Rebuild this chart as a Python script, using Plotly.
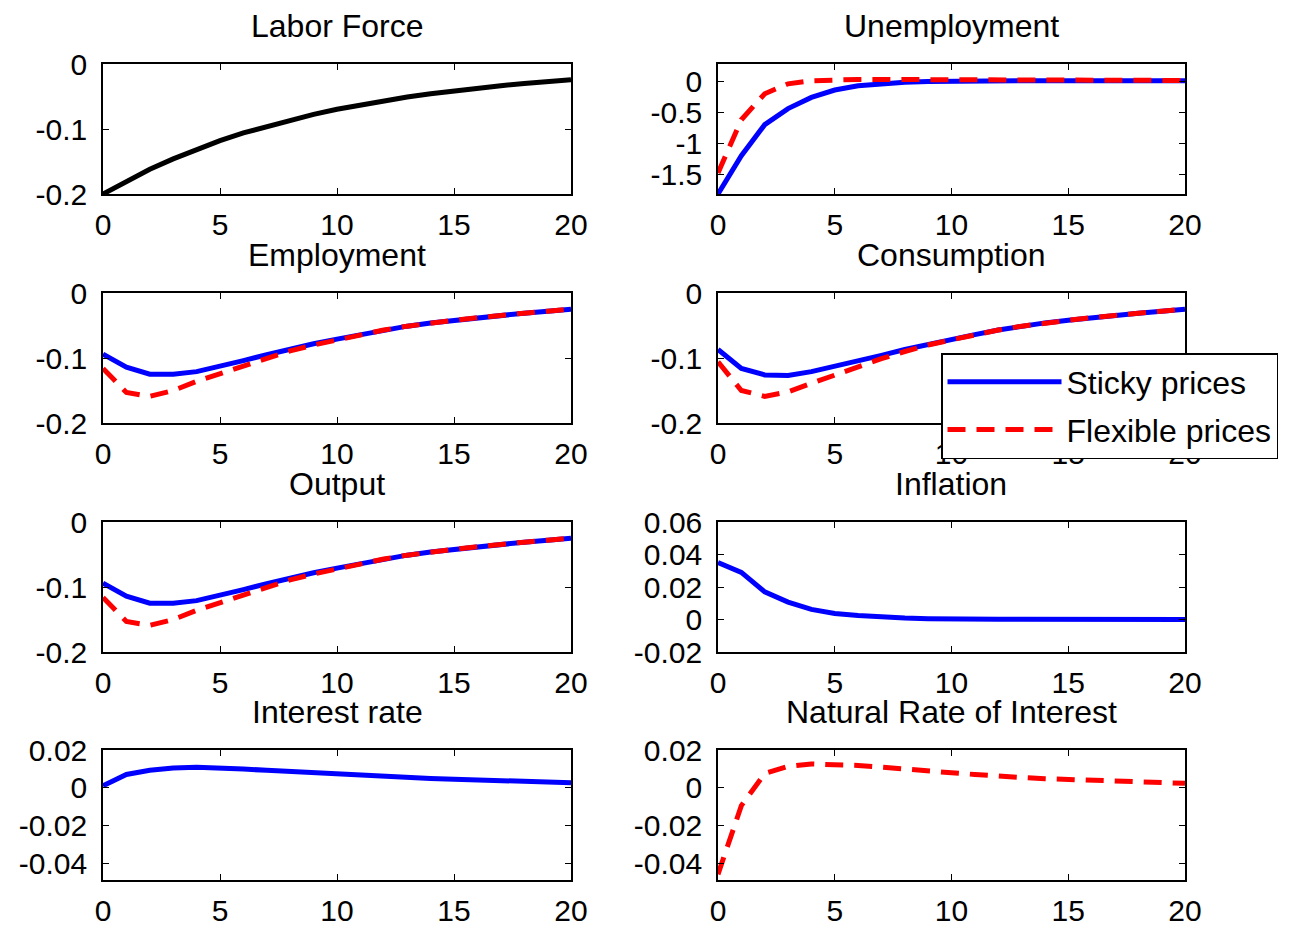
import plotly.graph_objects as go
from plotly.subplots import make_subplots

# ---------------- data ----------------
t = list(range(21))

labor_force = [-0.200, -0.180, -0.162, -0.146, -0.131, -0.118, -0.106, -0.096, -0.086, -0.0775,
               -0.0697, -0.0628, -0.0565, -0.0508, -0.0458, -0.0412, -0.0371, -0.0334, -0.0300, -0.0270, -0.0243]

unemp_sticky = [-1.82, -1.20, -0.70, -0.44, -0.26, -0.14, -0.07, -0.035, -0.015, -0.003,
                0.005, 0.008, 0.010, 0.010, 0.010, 0.010, 0.010, 0.010, 0.010, 0.008, 0.008]
unemp_flex = [-1.48, -0.62, -0.20, -0.04, 0.010, 0.025, 0.030, 0.030, 0.030, 0.030,
              0.030, 0.028, 0.027, 0.026, 0.025, 0.024, 0.022, 0.020, 0.018, 0.016, 0.014]

emp_sticky = [-0.094, -0.114, -0.125, -0.125, -0.121, -0.113, -0.104, -0.095, -0.086, -0.078,
              -0.071, -0.064, -0.057, -0.051, -0.046, -0.042, -0.038, -0.034, -0.031, -0.028, -0.025]
emp_flex = [-0.116, -0.153, -0.159, -0.150, -0.136, -0.124, -0.112, -0.100, -0.089, -0.080,
            -0.072, -0.064, -0.057, -0.051, -0.046, -0.042, -0.038, -0.034, -0.031, -0.028, -0.025]

cons_sticky = [-0.087, -0.116, -0.126, -0.127, -0.121, -0.113, -0.105, -0.096, -0.087, -0.079,
               -0.071, -0.064, -0.057, -0.051, -0.046, -0.042, -0.038, -0.034, -0.031, -0.028, -0.025]
cons_flex = [-0.106, -0.150, -0.159, -0.152, -0.139, -0.126, -0.113, -0.101, -0.090, -0.080,
             -0.072, -0.064, -0.057, -0.051, -0.046, -0.042, -0.038, -0.034, -0.031, -0.028, -0.025]

out_sticky = [-0.094, -0.114, -0.125, -0.125, -0.121, -0.113, -0.104, -0.095, -0.086, -0.078,
              -0.071, -0.064, -0.057, -0.051, -0.046, -0.042, -0.038, -0.034, -0.031, -0.028, -0.025]
out_flex = [-0.116, -0.153, -0.159, -0.150, -0.136, -0.124, -0.112, -0.100, -0.089, -0.080,
            -0.072, -0.064, -0.057, -0.051, -0.046, -0.042, -0.038, -0.034, -0.031, -0.028, -0.025]

inflation = [0.035, 0.029, 0.017, 0.0107, 0.0062, 0.0037, 0.0025, 0.0015, 0.0009, 0.0005,
             0.0002, 0.0001, 0.0001, 0.0001, 0.0, 0.0, 0.0, 0.0, 0.0, 0.0, 0.0]

interest = [0.001, 0.007, 0.0092, 0.0104, 0.0108, 0.0105, 0.0099, 0.0092, 0.0085, 0.0078,
            0.0071, 0.0065, 0.0059, 0.0054, 0.0049, 0.0045, 0.0041, 0.0037, 0.0033, 0.0029, 0.0026]

natural_rate = [-0.046, -0.0095, 0.0075, 0.0113, 0.0126, 0.0123, 0.0118, 0.0109, 0.0097, 0.0088,
                0.0079, 0.0070, 0.0060, 0.0054, 0.0048, 0.0044, 0.0040, 0.0036, 0.0031, 0.0027, 0.0023]

titles = ["Labor Force", "Unemployment", "Employment", "Consumption",
          "Output", "Inflation", "Interest rate", "Natural Rate of Interest"]

x_ticks = [0, 5, 10, 15, 20]
y_ranges = [[-0.2, 0], [-1.82, 0.28], [-0.2, 0], [-0.2, 0],
            [-0.2, 0], [-0.02, 0.06], [-0.049, 0.02], [-0.049, 0.02]]
y_tickvals = [[-0.2, -0.1, 0], [-1.5, -1, -0.5, 0], [-0.2, -0.1, 0], [-0.2, -0.1, 0],
              [-0.2, -0.1, 0], [-0.02, 0, 0.02, 0.04, 0.06], [-0.04, -0.02, 0, 0.02], [-0.04, -0.02, 0, 0.02]]
y_ticktext = [["-0.2", "-0.1", "0"], ["-1.5", "-1", "-0.5", "0"], ["-0.2", "-0.1", "0"], ["-0.2", "-0.1", "0"],
              ["-0.2", "-0.1", "0"], ["-0.02", "0", "0.02", "0.04", "0.06"],
              ["-0.04", "-0.02", "0", "0.02"], ["-0.04", "-0.02", "0", "0.02"]]

# ---------------- figure ----------------
W, H = 1297, 929
OFF = 8  # the page body adds an 8px margin around the plot div
FONT = "Liberation Sans, Arial, Helvetica, sans-serif"
BLUE = "rgb(0,0,255)"
RED = "rgb(255,0,0)"
LW = 5
DASH = "18px,11px"

fig = make_subplots(rows=4, cols=2)

col_px = [(103 - OFF, 571 - OFF), (718 - OFF, 1185 - OFF)]
row_px = [(64 - OFF, 194 - OFF), (293 - OFF, 423 - OFF), (522 - OFF, 652 - OFF), (750 - OFF, 880 - OFF)]


def add(row, col, y, color, dash=None, name=None, showlegend=False, group=None):
    fig.add_trace(go.Scatter(x=t, y=y, mode="lines", name=name, showlegend=showlegend,
                             legendgroup=group,
                             line=dict(color=color, width=LW, dash=dash)), row=row, col=col)


add(1, 1, labor_force, "black")
add(1, 2, unemp_sticky, BLUE, name="Sticky prices", showlegend=True, group="sticky")
add(1, 2, unemp_flex, RED, dash=DASH, name="Flexible prices", showlegend=True, group="flex")
add(2, 1, emp_sticky, BLUE)
add(2, 1, emp_flex, RED, dash=DASH)
add(2, 2, cons_sticky, BLUE)
add(2, 2, cons_flex, RED, dash=DASH)
add(3, 1, out_sticky, BLUE)
add(3, 1, out_flex, RED, dash=DASH)
add(3, 2, inflation, BLUE)
add(4, 1, interest, BLUE)
add(4, 2, natural_rate, RED, dash=DASH)

axis_common = dict(showline=True, linecolor="black", linewidth=1.5, mirror="ticks",
                   ticks="inside", ticklen=6, tickwidth=1, tickcolor="black",
                   showgrid=False, zeroline=False, automargin=False,
                   tickfont=dict(family=FONT, size=30, color="black"))

annotations = []
for i in range(8):
    r, c = divmod(i, 2)
    x0, x1 = col_px[c]
    y0, y1 = row_px[r]
    xd = [x0 / W, x1 / W]
    yd = [1 - y1 / H, 1 - y0 / H]
    fig.update_xaxes(domain=xd, range=[0, 20], tickvals=x_ticks,
                     ticklabelstandoff=3, row=r + 1, col=c + 1, **axis_common)
    fig.update_yaxes(domain=yd, range=y_ranges[i], tickvals=y_tickvals[i],
                     ticktext=y_ticktext[i], ticklabelstandoff=8,
                     row=r + 1, col=c + 1, **axis_common)
    annotations.append(dict(text=titles[i], xref="paper", yref="paper",
                            x=(x0 + x1) / 2 / W, y=1 - (y0 - 38) / H,
                            xanchor="center", yanchor="middle", showarrow=False,
                            font=dict(family=FONT, size=32, color="black")))

fig.update_layout(
    width=W, height=H, autosize=False,
    margin=dict(l=0, r=0, t=0, b=0, autoexpand=False),
    paper_bgcolor="white", plot_bgcolor="white",
    font=dict(family=FONT, color="black"),
    annotations=annotations,
    legend=dict(x=(941 - OFF) / W, y=1 - (353 - OFF) / H, xanchor="left", yanchor="top",
                bgcolor="white", bordercolor="black", borderwidth=1.5,
                font=dict(family=FONT, size=32, color="black"),
                itemwidth=114, tracegroupgap=3, traceorder="grouped"),
)

fig.write_html("out.html")
